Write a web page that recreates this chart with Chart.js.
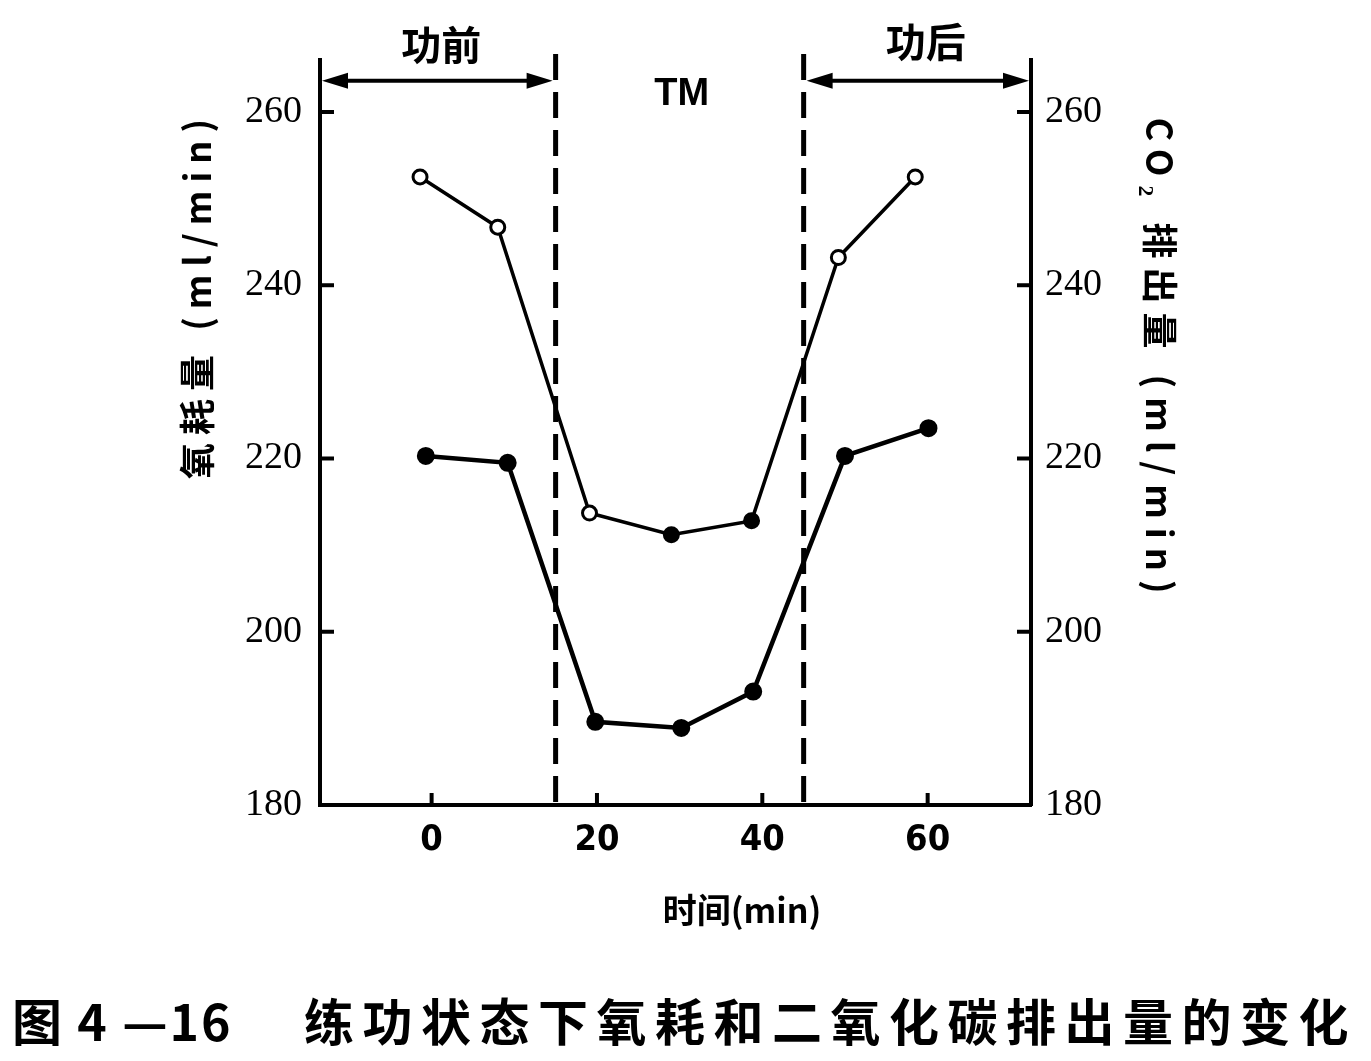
<!DOCTYPE html>
<html>
<head>
<meta charset="utf-8">
<script src="https://cdn.jsdelivr.net/npm/chart.js@4.4.0/dist/chart.umd.min.js"></script>
<style>
  html, body { margin: 0; padding: 0; background: #fff; }
  canvas { display: block; }
</style>
</head>
<body>
<canvas id="chart" width="1371" height="1061"></canvas>
<script>
// values (time in min, volume in ml/min)
const timeO2 = [-1.4, 8.0, 19.1, 29.0, 38.7, 49.2, 58.5];
const o2Values = [252.5, 246.7, 213.7, 211.2, 212.8, 243.2, 252.5];
const o2Filled = [false, false, false, true, true, false, false];

const timeCO2 = [-0.7, 9.2, 19.8, 30.2, 38.9, 50.0, 60.1];
const co2Values = [220.3, 219.5, 189.6, 188.9, 193.1, 220.3, 223.5];

const xTicks = [0, 20, 40, 60];
const yTicks = [180, 200, 220, 240, 260];
const phaseLines = [15, 45];   // 功前 | TM | 功后
const arrowLevel = 263.6;

const phaseLabels = ['功前', 'TM', '功后'];
const leftTitle = '氧耗量 (ml/min)';
const rightTitle = 'CO₂ 排出量 (ml/min)';
const xTitle = '时间(min)';
const caption = ['图 4 —16', '练功状态下氧耗和二氧化碳排出量的变化'];

const toPoints = (xs, ys) => xs.map((x, i) => ({ x: x, y: ys[i] }));

function arrowHead(ctx, x, y, dir) {
    ctx.beginPath();
    ctx.moveTo(x, y);
    ctx.lineTo(x - dir * 26, y - 8);
    ctx.lineTo(x - dir * 26, y + 8);
    ctx.closePath();
    ctx.fill();
}

const decorations = {
    id: 'decorations',
    afterDraw(chart) {
        const ctx = chart.ctx;
        const x = chart.scales.x;
        const y = chart.scales.y;
        const y2 = chart.scales.y2;
        const area = chart.chartArea;
        ctx.save();
        ctx.strokeStyle = '#000';
        ctx.fillStyle = '#000';

        // inward tick marks
        ctx.lineWidth = 4;
        yTicks.forEach(v => {
            const py = y.getPixelForValue(v);
            ctx.beginPath(); ctx.moveTo(area.left, py); ctx.lineTo(area.left + 14, py); ctx.stroke();
            const py2 = y2.getPixelForValue(v);
            ctx.beginPath(); ctx.moveTo(area.right - 14, py2); ctx.lineTo(area.right, py2); ctx.stroke();
        });
        xTicks.forEach(v => {
            const px = x.getPixelForValue(v);
            ctx.beginPath(); ctx.moveTo(px, area.bottom); ctx.lineTo(px, area.bottom - 12); ctx.stroke();
        });

        // dashed phase lines
        ctx.lineWidth = 5;
        ctx.setLineDash([26, 12]);
        phaseLines.forEach(v => {
            const px = x.getPixelForValue(v);
            ctx.beginPath(); ctx.moveTo(px, area.top - 6); ctx.lineTo(px, area.bottom); ctx.stroke();
        });
        ctx.setLineDash([]);

        // double arrows
        const ay = y.getPixelForValue(arrowLevel);
        const spans = [[area.left + 2, x.getPixelForValue(phaseLines[0]) - 3],
                       [x.getPixelForValue(phaseLines[1]) + 3, area.right - 2]];
        ctx.lineWidth = 4;
        spans.forEach(([a, b]) => {
            ctx.beginPath(); ctx.moveTo(a + 10, ay); ctx.lineTo(b - 10, ay); ctx.stroke();
            arrowHead(ctx, a, ay, -1);
            arrowHead(ctx, b, ay, 1);
        });

        // phase labels
        ctx.textAlign = 'center';
        ctx.textBaseline = 'middle';
        ctx.font = 'bold 40px "Noto Sans CJK SC"';
        ctx.fillText(phaseLabels[0], (spans[0][0] + spans[0][1]) / 2 + 4, 45);
        ctx.fillText(phaseLabels[2], (spans[1][0] + spans[1][1]) / 2 + 8, 42);
        ctx.font = 'bold 38px "Liberation Sans"';
        ctx.fillText(phaseLabels[1], (x.getPixelForValue(phaseLines[0]) + x.getPixelForValue(phaseLines[1])) / 2 + 2, 95);

        // axis titles
        ctx.font = 'bold 36px "Noto Sans CJK SC"';
        ctx.save();
        ctx.translate(197, 295);
        ctx.rotate(-Math.PI / 2);
        ctx.letterSpacing = '8px';
        ctx.fillText(leftTitle, 0, 0);
        ctx.restore();

        ctx.save();
        ctx.translate(1160, 360);
        ctx.rotate(Math.PI / 2);
        ctx.letterSpacing = '9px';
        ctx.fillText(rightTitle, 0, 0);
        ctx.restore();

        ctx.font = 'bold 34px "Noto Sans CJK SC"';
        ctx.fillText(xTitle, 742, 910);

        // caption
        ctx.textAlign = 'left';
        ctx.font = 'bold 50px "Noto Sans CJK SC"';
        ctx.letterSpacing = '2px';
        ctx.fillText(caption[0], 12, 1022);
        ctx.letterSpacing = '8.5px';
        ctx.fillText(caption[1], 304, 1022);
        ctx.restore();
    }
};

const setTicks = values => scale => { scale.ticks = values.map(v => ({ value: v })); };

new Chart(document.getElementById('chart'), {
    type: 'line',
    data: {
        datasets: [{
            label: '氧耗量',
            data: toPoints(timeO2, o2Values),
            yAxisID: 'y',
            borderColor: '#000',
            borderWidth: 3.5,
            pointRadius: 7,
            pointBorderWidth: 3,
            pointBorderColor: '#000',
            pointBackgroundColor: o2Filled.map(f => f ? '#000' : '#fff'),
            tension: 0
        }, {
            label: 'CO₂ 排出量',
            data: toPoints(timeCO2, co2Values),
            yAxisID: 'y2',
            borderColor: '#000',
            borderWidth: 4.5,
            pointRadius: 8,
            pointBorderWidth: 2,
            pointBorderColor: '#000',
            pointBackgroundColor: '#000',
            tension: 0
        }]
    },
    options: {
        responsive: false,
        devicePixelRatio: 1,
        animation: false,
        layout: { padding: { top: 60, left: 0, right: 0, bottom: 0 } },
        plugins: { legend: { display: false }, tooltip: { enabled: false } },
        scales: {
            x: {
                type: 'linear',
                min: -13.5,
                max: 72.5,
                afterBuildTicks: setTicks(xTicks),
                afterFit: scale => { scale.height = 256; },
                grid: { display: false, drawTicks: false },
                border: { display: true, color: '#000', width: 4 },
                ticks: {
                    padding: 14,
                    color: '#000',
                    font: { family: 'DejaVu Sans Condensed, Liberation Sans', size: 36, weight: 'bold' }
                }
            },
            y: {
                type: 'linear',
                position: 'left',
                min: 180,
                max: 266,
                afterBuildTicks: setTicks(yTicks),
                afterFit: scale => { scale.width = 320; },
                grid: { display: false, drawTicks: false },
                border: { display: true, color: '#000', width: 4 },
                ticks: {
                    padding: 18,
                    color: '#000',
                    font: { family: 'Liberation Serif', size: 38 }
                }
            },
            y2: {
                type: 'linear',
                position: 'right',
                min: 180,
                max: 266,
                afterBuildTicks: setTicks(yTicks),
                afterFit: scale => { scale.width = 340; },
                grid: { display: false, drawTicks: false },
                border: { display: true, color: '#000', width: 4 },
                ticks: {
                    padding: 14,
                    color: '#000',
                    font: { family: 'Liberation Serif', size: 38 }
                }
            }
        }
    },
    plugins: [decorations]
});
</script>
</body>
</html>
